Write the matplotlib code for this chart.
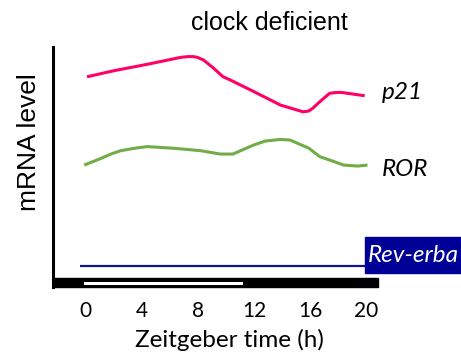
import numpy as np
import matplotlib
matplotlib.use('Agg')
import matplotlib.pyplot as plt
from matplotlib.patches import Rectangle

# Zeitgeber time (h) and relative mRNA levels
p21_zt = [0.1, 2.0, 4.4, 6.8, 7.3, 7.7, 8.0, 8.4, 9.1, 9.8, 10.3, 12.0, 13.9, 15.5, 15.9,
          16.2, 16.7, 17.1, 17.4, 17.8, 18.2, 19.9]
p21_level = [8.76, 9.01, 9.28, 9.57, 9.60, 9.60, 9.56, 9.46, 9.13, 8.76, 8.63, 8.14, 7.58, 7.30, 7.33,
             7.45, 7.72, 7.92, 8.07, 8.10, 8.11, 7.97]

ror_zt = [-0.1, 1.1, 1.8, 2.5, 3.6, 4.4, 6.3, 8.2, 9.6, 10.5, 12.0, 12.8, 13.9, 14.6, 15.1,
          15.9, 16.7, 17.6, 18.4, 19.4, 20.1]
ror_level = [5.08, 5.36, 5.54, 5.68, 5.79, 5.85, 5.78, 5.68, 5.54, 5.54, 5.92, 6.08, 6.15, 6.12, 5.99,
             5.79, 5.43, 5.25, 5.08, 5.04, 5.08]

reverb_zt = [-0.4, 19.9]
reverb_level = [0.875, 0.875]

zt_ticks = [0, 4, 8, 12, 16, 20]
light_on, light_off = -0.15, 11.25

W, H = 461, 356
fig = plt.figure(figsize=(W / 100, H / 100), dpi=100)
ax = fig.add_axes([52.7 / W, (H - 287) / H, (378 - 52.7) / W, 240 / H])
ax.set_xlim(-2.35, 20.85)
ax.set_ylim(0, 10)

ax.plot(p21_zt, p21_level, color='#ff0066', lw=2.2, solid_capstyle='butt', solid_joinstyle='round')
ax.plot(ror_zt, ror_level, color='#70ad47', lw=2.2, solid_capstyle='butt', solid_joinstyle='round')
ax.plot(reverb_zt, reverb_level, color='#14148c', lw=1.6, solid_capstyle='butt')

# light/dark bar along the time axis
ax.add_patch(Rectangle((-2.35, 0), 23.2, 0.375, color='black', clip_on=False, zorder=3))
ax.add_patch(Rectangle((light_on, 0.09), light_off - light_on, 0.13,
                       facecolor='white', edgecolor='none', clip_on=False, zorder=4))

for s in ['top', 'right', 'bottom']:
    ax.spines[s].set_visible(False)
ax.spines['left'].set_linewidth(2.2)
ax.set_yticks([])
ax.set_xticks(zt_ticks)
ax.set_xticklabels([str(t) for t in zt_ticks], family='Lato', fontsize=15)
ax.tick_params(axis='x', length=0, pad=10)
ax.set_xlabel('Zeitgeber time (h)', family='Lato', fontsize=17.5, va='center')
ax.xaxis.set_label_coords((229 - 52.7) / (378 - 52.7), -(340 - 287) / 240)
ax.set_ylabel('mRNA level', family='Liberation Sans', fontsize=19, va='center')
ax.yaxis.set_label_coords(-(52.7 - 29) / (378 - 52.7), (287 - 142) / 240)

ax.text(21.1, 8.1, 'p21', family='Lato', style='italic', fontsize=17.5, va='center', clip_on=False)
ax.text(21.1, 4.9, 'ROR', family='Lato', style='italic', fontsize=17.5, va='center', clip_on=False)

fig.patches.append(Rectangle((365 / W, (H - 273) / H), (W - 365) / W + 0.01, 36 / H,
                             transform=fig.transFigure, color='#000096', zorder=5))
fig.text(368 / W, (H - 255) / H, 'Rev-erba', family='Lato', style='italic', fontsize=17.5,
         color='white', va='center', zorder=6)

fig.text(269 / W, (H - 23) / H, 'clock deficient', family='Liberation Sans', fontsize=18,
         ha='center', va='center')

fig.savefig('out.png', dpi=100)
